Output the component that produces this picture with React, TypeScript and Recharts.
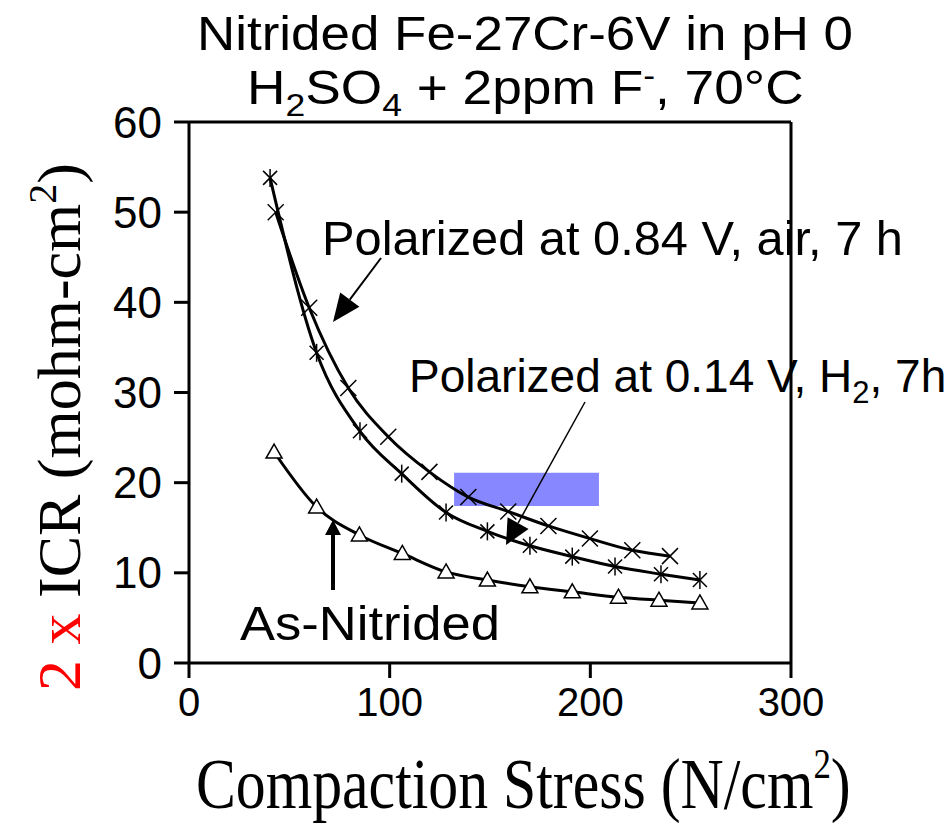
import { LineChart, Line, XAxis, YAxis, ReferenceLine, ReferenceArea } from "recharts";

// Polarized at 0.84 V, air, 7 h  (x markers)
const stressAir = [43.2, 59.9, 79.4, 99.3, 119.8, 139.2, 159.1, 179.1, 199.8, 220.9, 239.7];
const icrAir = [50.0, 39.4, 30.5, 25.1, 21.2, 18.4, 16.8, 15.2, 13.8, 12.5, 11.85];

// Polarized at 0.14 V, H2, 7 h  (asterisk markers)
const stressH2 = [40.4, 63.6, 85.2, 106.0, 128.1, 148.7, 169.9, 191.0, 212.3, 235.2, 254.6];
const icrH2 = [53.8, 34.4, 25.7, 21.0, 16.7, 14.6, 13.0, 11.8, 10.7, 9.85, 9.2];

// As-Nitrided  (open triangles)
const stressAsN = [42.4, 63.6, 84.9, 106.3, 128.1, 148.7, 169.9, 191.0, 214.0, 234.2, 254.6];
const icrAsN = [23.4, 17.3, 14.2, 12.15, 10.1, 9.2, 8.45, 7.9, 7.3, 6.96, 6.66];

const xTicks = [0, 100, 200, 300];
const yTicks = [0, 10, 20, 30, 40, 50, 60];

const toPoints = (xs: number[], ys: number[]) => xs.map((x, i) => ({ x, y: ys[i] }));

const SANS = "'Liberation Sans', Arial, sans-serif";
const SERIF = "'Liberation Serif', 'Times New Roman', serif";

const CrossDot = (p: any) => {
  const { cx, cy } = p;
  const s = 8;
  return (
    <g key={`c-${p.index}`} stroke="#000" strokeWidth={1.5}>
      <line x1={cx - s} y1={cy - s} x2={cx + s} y2={cy + s} />
      <line x1={cx - s} y1={cy + s} x2={cx + s} y2={cy - s} />
    </g>
  );
};

const StarDot = (p: any) => {
  const { cx, cy } = p;
  const s = 7;
  return (
    <g key={`s-${p.index}`} stroke="#000" strokeWidth={1.5}>
      <line x1={cx - s} y1={cy - s} x2={cx + s} y2={cy + s} />
      <line x1={cx - s} y1={cy + s} x2={cx + s} y2={cy - s} />
      <line x1={cx} y1={cy - 9} x2={cx} y2={cy + 9} />
    </g>
  );
};

const TriDot = (p: any) => {
  const { cx, cy } = p;
  return (
    <polygon
      key={`t-${p.index}`}
      points={`${cx},${cy - 8} ${cx + 8},${cy + 6} ${cx - 8},${cy + 6}`}
      fill="#fff"
      stroke="#000"
      strokeWidth={1.5}
    />
  );
};

function Arrow({ x1, y1, x2, y2, len, half, width }: any) {
  const dx = x2 - x1;
  const dy = y2 - y1;
  const d = Math.hypot(dx, dy);
  const ux = dx / d;
  const uy = dy / d;
  const bx = x2 - ux * len;
  const by = y2 - uy * len;
  const px = -uy * half;
  const py = ux * half;
  return (
    <g>
      <line x1={x1} y1={y1} x2={bx} y2={by} stroke="#000" strokeWidth={width} />
      <polygon points={`${x2},${y2} ${bx + px},${by + py} ${bx - px},${by - py}`} fill="#000" />
    </g>
  );
}

export default function App() {
  return (
    <div style={{ position: "absolute", left: 0, top: 0, width: 949, height: 823, background: "#fff" }}>
      <LineChart
        width={949}
        height={823}
        margin={{ top: 122, right: 158, bottom: 0, left: 0 }}
      >
        <XAxis
          type="number"
          dataKey="x"
          domain={[0, 300]}
          ticks={xTicks}
          height={160}
          axisLine={{ stroke: "#000", strokeWidth: 3 }}
          tickLine={{ stroke: "#000", strokeWidth: 3 }}
          tickSize={15}
          tickMargin={10}
          tick={{ fontSize: 40, fill: "#000", fontFamily: SANS }}
          allowDuplicatedCategory={false}
        />
        <YAxis
          type="number"
          domain={[0, 60]}
          ticks={yTicks}
          width={189}
          axisLine={{ stroke: "#000", strokeWidth: 3 }}
          tickLine={{ stroke: "#000", strokeWidth: 3 }}
          tickSize={15}
          tickMargin={12}
          tick={{ fontSize: 44, fill: "#000", fontFamily: SANS }}
        />
        <ReferenceLine y={60} stroke="#000" strokeWidth={3} />
        <ReferenceLine x={300} stroke="#000" strokeWidth={3} />
        <Line
          data={toPoints(stressAir, icrAir)}
          dataKey="y"
          type="monotone"
          stroke="#000"
          strokeWidth={3}
          dot={CrossDot}
          isAnimationActive={false}
        />
        <Line
          data={toPoints(stressH2, icrH2)}
          dataKey="y"
          type="monotone"
          stroke="#000"
          strokeWidth={3}
          dot={StarDot}
          isAnimationActive={false}
        />
        <Line
          data={toPoints(stressAsN, icrAsN)}
          dataKey="y"
          type="monotone"
          stroke="#000"
          strokeWidth={3}
          dot={TriDot}
          isAnimationActive={false}
        />
        <ReferenceArea x1={132.1} x2={204.3} y1={17.4} y2={21.1} fill="#0000ff" fillOpacity={0.47} stroke="none" />
      </LineChart>

      <svg
        width={949}
        height={823}
        style={{ position: "absolute", left: 0, top: 0, pointerEvents: "none" }}
      >
        {/* title */}
        <text x={197} y={50} textLength={656} lengthAdjust="spacingAndGlyphs" fontFamily={SANS} fontSize={48} fill="#000">
          Nitrided Fe-27Cr-6V in pH 0
        </text>
        <text transform="translate(247 104) scale(1.11 1)" x={0} y={0} fontFamily={SANS} fontSize={48} fill="#000">
          H<tspan fontSize={32} dy={12}>2</tspan>
          <tspan dy={-12}>SO</tspan>
          <tspan fontSize={32} dy={12}>4</tspan>
          <tspan dy={-12}> + 2ppm F</tspan>
          <tspan fontSize={32} dy={-18}>-</tspan>
          <tspan dy={18}>, 70°C</tspan>
        </text>

        {/* axis titles */}
        <text
          x={80}
          y={427}
          transform="rotate(-90 80 427)"
          textAnchor="middle"
          fontFamily={SERIF}
          fontSize={62}
          fill="#000"
        >
          <tspan fill="#ff0000">2 x</tspan> ICR (mohm-cm
          <tspan fontSize={40} dy={-24}>2</tspan>
          <tspan dy={24}>)</tspan>
        </text>
        <text transform="translate(196 808) scale(0.83 1)" x={0} y={0} fontFamily={SERIF} fontSize={72} fill="#000">
          Compaction Stress (N/cm<tspan fontSize={42} dy={-30}>2</tspan>
          <tspan dy={30}>)</tspan>
        </text>

        {/* annotations */}
        <text x={322} y={255} textLength={581} lengthAdjust="spacingAndGlyphs" fontFamily={SANS} fontSize={48} fill="#000">
          Polarized at 0.84 V, air, 7 h
        </text>
        <Arrow x1={381} y1={258} x2={333} y2={322} len={28} half={12} width={2} />

        <text x={409} y={392} fontFamily={SANS} fontSize={46} fill="#000">
          Polarized at 0.14 V, H<tspan fontSize={31} dy={11}>2</tspan>
          <tspan dy={-11}>, 7h</tspan>
        </text>
        <Arrow x1={585} y1={402} x2={506} y2={545} len={25} half={12} width={1.5} />

        <text x={240} y={640} textLength={260} lengthAdjust="spacingAndGlyphs" fontFamily={SANS} fontSize={48} fill="#000">
          As-Nitrided
        </text>
        <Arrow x1={333} y1={590} x2={333} y2={520} len={15} half={8} width={4} />
      </svg>
    </div>
  );
}
